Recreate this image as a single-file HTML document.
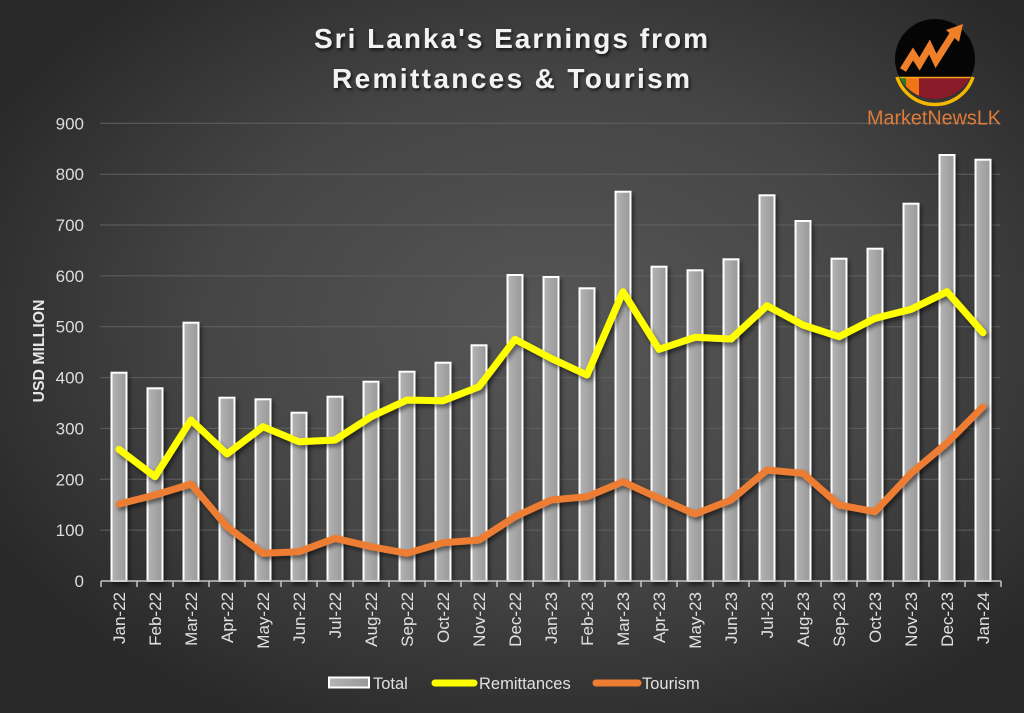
<!DOCTYPE html>
<html>
<head>
<meta charset="utf-8">
<style>
html,body{margin:0;padding:0;background:#2b2b2b;}
svg{display:block;}
text{font-family:"Liberation Sans",sans-serif;}
</style>
</head>
<body>
<svg width="1024" height="713" viewBox="0 0 1024 713" xmlns="http://www.w3.org/2000/svg">
<defs>
<radialGradient id="bg" cx="54%" cy="46%" r="62%">
<stop offset="0" stop-color="#565656"/>
<stop offset="0.55" stop-color="#454545"/>
<stop offset="1" stop-color="#292929"/>
</radialGradient>
<linearGradient id="barg" x1="0" y1="0" x2="1" y2="0">
<stop offset="0" stop-color="#b4b4b4"/>
<stop offset="0.5" stop-color="#a6a6a6"/>
<stop offset="1" stop-color="#999999"/>
</linearGradient>
<filter id="sh" x="-10%" y="-10%" width="120%" height="130%">
<feDropShadow dx="2" dy="3" stdDeviation="2" flood-color="#000" flood-opacity="0.5"/>
</filter>
<filter id="tsh" x="-5%" y="-20%" width="110%" height="150%">
<feDropShadow dx="1.5" dy="2" stdDeviation="1.5" flood-color="#000" flood-opacity="0.7"/>
</filter>
<clipPath id="logoclip"><circle cx="935" cy="59" r="40"/></clipPath>
</defs>
<rect x="0" y="0" width="1024" height="713" fill="url(#bg)"/>

<!-- Title -->
<g filter="url(#tsh)" fill="#f2f2f2" font-weight="bold" font-size="28">
<text x="314" y="48" textLength="394" lengthAdjust="spacing">Sri Lanka's Earnings from</text>
<text x="332" y="88" textLength="358" lengthAdjust="spacing">Remittances &amp; Tourism</text>
</g>

<!-- gridlines -->
<g stroke="#616161" stroke-width="1">
<line x1="100" y1="123.3" x2="1000" y2="123.3"/>
<line x1="100" y1="174.2" x2="1000" y2="174.2"/>
<line x1="100" y1="225.0" x2="1000" y2="225.0"/>
<line x1="100" y1="275.9" x2="1000" y2="275.9"/>
<line x1="100" y1="326.7" x2="1000" y2="326.7"/>
<line x1="100" y1="377.6" x2="1000" y2="377.6"/>
<line x1="100" y1="428.4" x2="1000" y2="428.4"/>
<line x1="100" y1="479.3" x2="1000" y2="479.3"/>
<line x1="100" y1="530.1" x2="1000" y2="530.1"/>
</g>

<!-- y tick labels -->
<g fill="#dcdcdc" font-size="17" text-anchor="end">
<text x="84" y="129.3">900</text>
<text x="84" y="180.2">800</text>
<text x="84" y="231.0">700</text>
<text x="84" y="281.9">600</text>
<text x="84" y="332.7">500</text>
<text x="84" y="383.6">400</text>
<text x="84" y="434.4">300</text>
<text x="84" y="485.3">200</text>
<text x="84" y="536.1">100</text>
<text x="84" y="587">0</text>
</g>

<text transform="translate(44,351) rotate(-90)" text-anchor="middle" fill="#e6e6e6" font-weight="bold" font-size="16" textLength="103" lengthAdjust="spacingAndGlyphs">USD MILLION</text>

<!-- bars -->
<g fill="url(#barg)" stroke="#ffffff" stroke-width="2" filter="url(#sh)">
<rect x="111.5" y="372.7" width="15" height="208.3"/>
<rect x="147.5" y="388.3" width="15" height="192.7"/>
<rect x="183.5" y="322.7" width="15" height="258.3"/>
<rect x="219.5" y="397.7" width="15" height="183.3"/>
<rect x="255.5" y="399.3" width="15" height="181.7"/>
<rect x="291.5" y="412.7" width="15" height="168.3"/>
<rect x="327.5" y="396.7" width="15" height="184.3"/>
<rect x="363.5" y="381.7" width="15" height="199.3"/>
<rect x="399.5" y="371.7" width="15" height="209.3"/>
<rect x="435.5" y="362.7" width="15" height="218.3"/>
<rect x="471.5" y="345.3" width="15" height="235.7"/>
<rect x="507.5" y="275" width="15" height="306"/>
<rect x="543.5" y="277" width="15" height="304"/>
<rect x="579.5" y="288.3" width="15" height="292.7"/>
<rect x="615.5" y="191.7" width="15" height="389.3"/>
<rect x="651.5" y="266.7" width="15" height="314.3"/>
<rect x="687.5" y="270.3" width="15" height="310.7"/>
<rect x="723.5" y="259.3" width="15" height="321.7"/>
<rect x="759.5" y="195.3" width="15" height="385.7"/>
<rect x="795.5" y="221" width="15" height="360"/>
<rect x="831.5" y="258.7" width="15" height="322.3"/>
<rect x="867.5" y="248.7" width="15" height="332.3"/>
<rect x="903.5" y="203.7" width="15" height="377.3"/>
<rect x="939.5" y="155" width="15" height="426"/>
<rect x="975.5" y="159.7" width="15" height="421.3"/>
</g>

<!-- axis -->
<g stroke="#c4c4c4" stroke-width="1.5">
<line x1="101" y1="581" x2="1001" y2="581"/>
<line x1="101" y1="581" x2="101" y2="587"/>
<line x1="137" y1="581" x2="137" y2="587"/>
<line x1="173" y1="581" x2="173" y2="587"/>
<line x1="209" y1="581" x2="209" y2="587"/>
<line x1="245" y1="581" x2="245" y2="587"/>
<line x1="281" y1="581" x2="281" y2="587"/>
<line x1="317" y1="581" x2="317" y2="587"/>
<line x1="353" y1="581" x2="353" y2="587"/>
<line x1="389" y1="581" x2="389" y2="587"/>
<line x1="425" y1="581" x2="425" y2="587"/>
<line x1="461" y1="581" x2="461" y2="587"/>
<line x1="497" y1="581" x2="497" y2="587"/>
<line x1="533" y1="581" x2="533" y2="587"/>
<line x1="569" y1="581" x2="569" y2="587"/>
<line x1="605" y1="581" x2="605" y2="587"/>
<line x1="641" y1="581" x2="641" y2="587"/>
<line x1="677" y1="581" x2="677" y2="587"/>
<line x1="713" y1="581" x2="713" y2="587"/>
<line x1="749" y1="581" x2="749" y2="587"/>
<line x1="785" y1="581" x2="785" y2="587"/>
<line x1="821" y1="581" x2="821" y2="587"/>
<line x1="857" y1="581" x2="857" y2="587"/>
<line x1="893" y1="581" x2="893" y2="587"/>
<line x1="929" y1="581" x2="929" y2="587"/>
<line x1="965" y1="581" x2="965" y2="587"/>
<line x1="1001" y1="581" x2="1001" y2="587"/>
</g>

<!-- lines -->
<g fill="none" stroke-width="7" stroke-linejoin="round" stroke-linecap="round" filter="url(#sh)">
<polyline stroke="#ed7d31" points="119,504 155,495 191,484 227,526.7 263,553.3 299,551.7 335,538.3 371,546.7 407,553.3 443,542.7 479,540 515,516.7 551,500 587,496.7 623,481.7 659,498.3 695,514 731,500 767,470 803,473.3 839,505 875,511.7 911,473.3 947,443 983,406.7"/>
<polyline stroke="#ffff00" points="119,449.3 155,476.7 191,420 227,454 263,426.7 299,441.7 335,440 371,416.7 407,400 443,400.7 479,386.7 515,339.3 551,358.3 587,375 623,291.7 659,349.3 695,337.3 731,339 767,305.7 803,325 839,336.7 875,318.3 911,309.3 947,291.7 983,332.7"/>
</g>

<!-- x labels -->
<g fill="#e0e0e0" font-size="17" text-anchor="end">
<text transform="translate(125,592) rotate(-90)">Jan-22</text>
<text transform="translate(161,592) rotate(-90)">Feb-22</text>
<text transform="translate(197,592) rotate(-90)">Mar-22</text>
<text transform="translate(233,592) rotate(-90)">Apr-22</text>
<text transform="translate(269,592) rotate(-90)">May-22</text>
<text transform="translate(305,592) rotate(-90)">Jun-22</text>
<text transform="translate(341,592) rotate(-90)">Jul-22</text>
<text transform="translate(377,592) rotate(-90)">Aug-22</text>
<text transform="translate(413,592) rotate(-90)">Sep-22</text>
<text transform="translate(449,592) rotate(-90)">Oct-22</text>
<text transform="translate(485,592) rotate(-90)">Nov-22</text>
<text transform="translate(521,592) rotate(-90)">Dec-22</text>
<text transform="translate(557,592) rotate(-90)">Jan-23</text>
<text transform="translate(593,592) rotate(-90)">Feb-23</text>
<text transform="translate(629,592) rotate(-90)">Mar-23</text>
<text transform="translate(665,592) rotate(-90)">Apr-23</text>
<text transform="translate(701,592) rotate(-90)">May-23</text>
<text transform="translate(737,592) rotate(-90)">Jun-23</text>
<text transform="translate(773,592) rotate(-90)">Jul-23</text>
<text transform="translate(809,592) rotate(-90)">Aug-23</text>
<text transform="translate(845,592) rotate(-90)">Sep-23</text>
<text transform="translate(881,592) rotate(-90)">Oct-23</text>
<text transform="translate(917,592) rotate(-90)">Nov-23</text>
<text transform="translate(953,592) rotate(-90)">Dec-23</text>
<text transform="translate(989,592) rotate(-90)">Jan-24</text>
</g>

<!-- legend -->
<rect x="329" y="677.5" width="40" height="10" fill="url(#barg)" stroke="#ffffff" stroke-width="2"/>
<text x="373" y="689" fill="#e0e0e0" font-size="16.5">Total</text>
<line x1="435" y1="683" x2="474" y2="683" stroke="#ffff00" stroke-width="7" stroke-linecap="round"/>
<text x="479" y="689" fill="#e0e0e0" font-size="16.5">Remittances</text>
<line x1="596" y1="683" x2="638" y2="683" stroke="#ed7d31" stroke-width="7" stroke-linecap="round"/>
<text x="642" y="689" fill="#e0e0e0" font-size="16.5">Tourism</text>

<!-- logo -->
<circle cx="935" cy="59" r="40" fill="#050505"/>
<g clip-path="url(#logoclip)">
<rect x="890" y="77" width="95" height="30" fill="#8a1c2a"/>
<rect x="890" y="77" width="16" height="30" fill="#2f7a1e"/>
<rect x="906" y="77" width="13" height="30" fill="#f07514"/>
<line x1="890" y1="77.5" x2="985" y2="77.5" stroke="#f2a51a" stroke-width="1.5"/>
</g>
<path d="M 897 77 A 40 40 0 0 0 973 77" fill="none" stroke="#f5b800" stroke-width="3.5"/>
<polyline points="903,70 913,54 919.5,64 929.5,47 936,61 953,34" fill="none" stroke="#f07f2a" stroke-width="7" stroke-linejoin="miter" stroke-linecap="butt"/>
<polygon points="963,24 946,30 959,42" fill="#f07f2a"/>
<text x="867" y="124.5" fill="#e07b39" font-size="20" textLength="134" lengthAdjust="spacingAndGlyphs">MarketNewsLK</text>
</svg>
</body>
</html>
